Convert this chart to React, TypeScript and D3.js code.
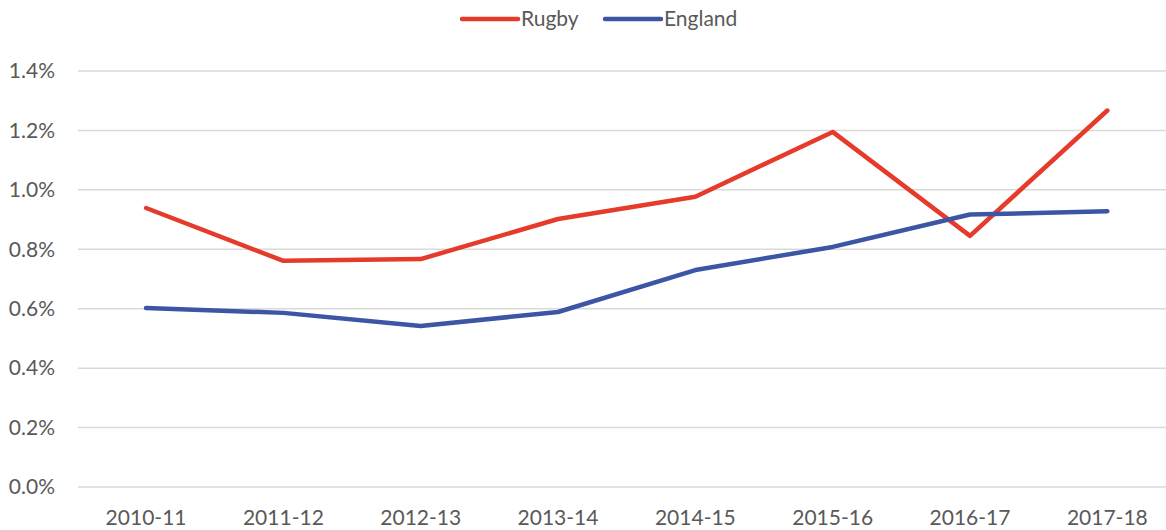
import React from "react";
import * as d3 from "d3";

const categories = ["2010-11", "2011-12", "2012-13", "2013-14", "2014-15", "2015-16", "2016-17", "2017-18"];
const rugby = [0.939, 0.761, 0.767, 0.902, 0.977, 1.195, 0.845, 1.267];
const england = [0.602, 0.586, 0.542, 0.589, 0.73, 0.808, 0.917, 0.928];
const yTicks = [0, 0.2, 0.4, 0.6, 0.8, 1.0, 1.2, 1.4];
const seriesNames = ["Rugby", "England"];
const colors = ["#E63A2B", "#3C55A5"];

export default function App() {
  const W = 1166, H = 530;
  const x = d3.scaleBand<string>().domain(categories).range([77.4, 1176]);
  const y = d3.scaleLinear().domain([0, 1.4]).range([487, 71]);
  const line = d3.line<number>().x((_, i) => x(categories[i])! + x.bandwidth() / 2).y(d => y(d));
  const font = "Lato, sans-serif";
  const fs = 21;
  const series = [rugby, england];
  const legendX = [462, 605];
  return (
    <svg width={W} height={H} style={{ position: "absolute", left: 0, top: 0, background: "#fff" }} fontFamily={font}>
      {yTicks.map(t => (
        <g key={t}>
          <line x1={78} x2={1166} y1={y(t)} y2={y(t)} stroke="#D9D9D9" strokeWidth={1.5} />
          <text x={55} y={y(t)} dy="0.35em" textAnchor="end" fontSize={fs} fill="#595959">{d3.format(".1%")(t / 100)}</text>
        </g>
      ))}
      {categories.map(c => (
        <text key={c} x={x(c)! + x.bandwidth() / 2} y={518} dy="0.35em" textAnchor="middle" fontSize={fs} fill="#595959">{c}</text>
      ))}
      {series.map((s, i) => (
        <path key={i} d={line(s)!} fill="none" stroke={colors[i]} strokeWidth={4.5} strokeLinejoin="round" strokeLinecap="round" />
      ))}
      {seriesNames.map((n, i) => (
        <g key={n}>
          <line x1={legendX[i]} x2={legendX[i] + 56} y1={19} y2={19} stroke={colors[i]} strokeWidth={4.5} strokeLinecap="round" />
          <text x={legendX[i] + 59} y={19} dy="0.35em" fontSize={fs} fill="#595959">{n}</text>
        </g>
      ))}
    </svg>
  );
}
